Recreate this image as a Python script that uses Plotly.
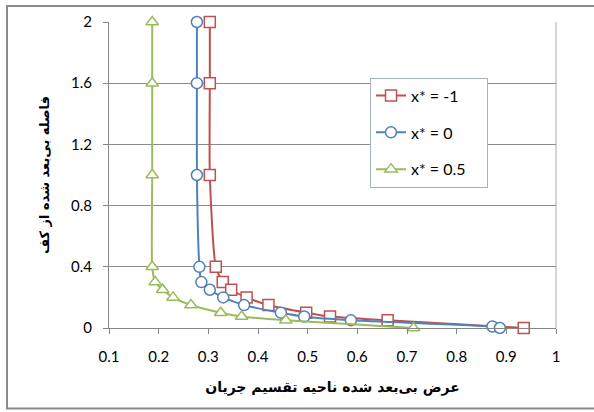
import plotly.graph_objects as go

# Data
y_levels_red = [2.0, 1.6, 1.0, 0.4, 0.3, 0.25, 0.2, 0.15, 0.1, 0.075, 0.05, 0.0]
x_red = [0.303, 0.303, 0.303, 0.315, 0.329, 0.346, 0.377, 0.421, 0.497, 0.545, 0.661, 0.935]

y_levels_blue = [2.0, 1.6, 1.0, 0.4, 0.3, 0.25, 0.2, 0.15, 0.1, 0.075, 0.05, 0.01, 0.0]
x_blue = [0.277, 0.277, 0.277, 0.282, 0.286, 0.303, 0.330, 0.372, 0.446, 0.493, 0.587, 0.872, 0.887]

y_levels_green = [2.0, 1.6, 1.0, 0.4, 0.3, 0.25, 0.2, 0.15, 0.1, 0.075, 0.05, 0.0]
x_green = [0.187, 0.187, 0.187, 0.187, 0.193, 0.208, 0.229, 0.265, 0.325, 0.367, 0.456, 0.713]

series_names = ["x* = -1", "x* = 0", "x* = 0.5"]
x_ticks = [0.1, 0.2, 0.3, 0.4, 0.5, 0.6, 0.7, 0.8, 0.9, 1.0]
x_tick_text = ["0.1", "0.2", "0.3", "0.4", "0.5", "0.6", "0.7", "0.8", "0.9", "1"]
y_ticks = [0, 0.4, 0.8, 1.2, 1.6, 2.0]
y_tick_text = ["0", "0.4", "0.8", "1.2", "1.6", "2"]

x_title = "عرض بی‌بعد شده ناحیه تقسیم جریان"
y_title = "فاصله بی‌بعد شده از کف"

FONT = "Lato, Open Sans, DejaVu Sans, sans-serif"
AR_FONT = "DejaVu Sans, sans-serif"

colors = ["#C0504D", "#4F81BD", "#9BBB59"]
symbols = ["square", "circle", "triangle-up"]
xs = [x_red, x_blue, x_green]
ys = [y_levels_red, y_levels_blue, y_levels_green]

fig = go.Figure()
for i in range(3):
    fig.add_trace(go.Scatter(
        x=xs[i], y=ys[i], name=series_names[i] + "\u00a0\u00a0\u00a0\u00a0", mode="lines+markers",
        line=dict(color=colors[i], width=2, shape="spline", smoothing=0.6),
        marker=dict(symbol=symbols[i], size=11,
                    color="white", line=dict(color=colors[i], width=1.5)),
        legendgroup=f"g{i}", cliponaxis=False,
    ))

W, H = 594, 412
L, R, T, B = 109, 38, 20, 84
PW, PH = W - L - R, H - T - B

fig.update_layout(
    width=W, height=H,
    margin=dict(l=L, r=R, t=T, b=B),
    paper_bgcolor="white", plot_bgcolor="white",
    font=dict(family=FONT, size=15, color="#000000"),
    showlegend=True,
    legend=dict(
        x=(370 - L) / PW, y=(H - B - 76) / PH, xanchor="left", yanchor="top",
        bgcolor="white", bordercolor="#A6B4BE", borderwidth=1,
        font=dict(family=FONT, size=16, color="#000000"),
        tracegroupgap=13, itemwidth=30,
    ),
    xaxis=dict(
        range=[0.1, 1.0], tickvals=x_ticks, ticktext=x_tick_text,
        showgrid=False, zeroline=False,
        showline=True, linecolor="#868686", linewidth=1,
        ticks="outside", ticklen=5, tickcolor="#868686",
        ticklabelstandoff=10,
        title=dict(text=f"<b>{x_title}</b>", font=dict(family=AR_FONT, size=14), standoff=18),
    ),
    yaxis=dict(
        range=[0, 2.0], tickvals=y_ticks, ticktext=y_tick_text,
        showgrid=True, gridcolor="#8C8C8C", gridwidth=1, zeroline=False,
        showline=True, linecolor="#868686", linewidth=1,
        ticks="outside", ticklen=5, tickcolor="#868686",
        ticklabelstandoff=8,
        title=dict(text=f"<b>{y_title}</b>", font=dict(family=AR_FONT, size=13), standoff=18),
    ),
)

# plot-area right border and outer chart frame
fig.add_shape(type="line", xref="paper", yref="paper", x0=1, x1=1, y0=0, y1=1,
              line=dict(color="#9FB0BA", width=1), layer="below")
fig.add_shape(type="rect", xref="paper", yref="paper",
              x0=(7 - L) / PW, x1=(640 - L) / PW,
              y0=(H - B - 409) / PH, y1=(H - B - 4) / PH,
              line=dict(color="#8A8A8A", width=2), fillcolor="rgba(0,0,0,0)", layer="above")

fig.write_html(
    "out.html",
    config={"displayModeBar": False},
    post_script="document.body.style.margin='0';document.body.style.overflow='hidden';",
)
